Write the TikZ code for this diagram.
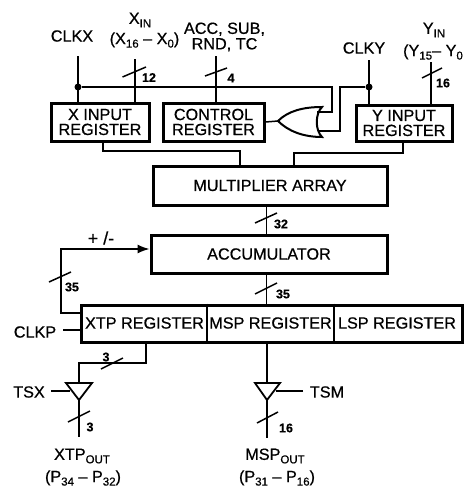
\documentclass[tikz,border=0pt]{standalone}
\usepackage{fontspec}
\setmainfont{Liberation Sans}[RawFeature={embolden=0.6}]
\usetikzlibrary{arrows.meta,calc}
\newcommand{\lo}[1]{\raisebox{-3.5pt}{\fontsize{11.5}{11.5}\selectfont #1}}
\tikzset{
  x=1pt,y=-1pt,
  lbl/.style={inner sep=0pt,font=\fontsize{16.2}{15.5}\selectfont,align=center},
  num/.style={inner sep=0pt,font=\fontsize{12.5}{12.5}\selectfont\bfseries},
  regbox/.style={draw,line width=3pt,inner sep=0pt,align=center,font=\fontsize{16.2}{15}\selectfont},
  wire/.style={line width=1.5pt},
  slash/.style={line width=1.5pt},
  buf/.style={line width=1.8pt,line join=miter},
  dot/.style={circle,fill,inner sep=0pt,minimum size=7pt},
}
\begin{document}
\begin{tikzpicture}
\useasboundingbox (0,0) rectangle (466,490);
% boxes
\node[regbox,minimum width=98pt,minimum height=38pt] (xreg) at (100,122) {X INPUT\\REGISTER};
\node[regbox,minimum width=101pt,minimum height=38pt] (ctrl) at (213.5,122) {CONTROL\\REGISTER};
\node[regbox,minimum width=96pt,minimum height=36pt] (yreg) at (404,123) {Y INPUT\\REGISTER};
\node[regbox,minimum width=234pt,minimum height=39pt] (mult) at (270,185.5) {MULTIPLIER ARRAY};
\node[regbox,minimum width=236pt,minimum height=38pt] (acc) at (269,254) {ACCUMULATOR};
\node[regbox,minimum width=381pt,minimum height=37pt] (reg) at (271.5,323.5) {};
\node[lbl] (xtp) at (144.5,323) {XTP REGISTER};
\node[lbl] (msp) at (270.5,323) {MSP REGISTER};
\node[lbl] (lsp) at (397,323) {LSP REGISTER};
\coordinate (divA) at (207,323);
\coordinate (divB) at (334,323);
\draw[wire] (divA |- reg.north) -- (divA |- reg.south);
\draw[wire] (divB |- reg.north) -- (divB |- reg.south);
% labels
\node[lbl] (lclkx) at (72,36) {CLKX};
\node[lbl] (lxin) at (140,20) {X\lo{IN}};
\node[lbl] (lxrange) at (144.5,40) {(X\lo{16} – X\lo{0})};
\node[lbl] (lctl) at (224.5,37) {ACC, SUB,\\RND, TC};
\node[lbl] (lclky) at (364,48) {CLKY};
\node[lbl] (lyin) at (434,30) {Y\lo{IN}};
\node[lbl] (lyrange) at (433,52) {(Y\lo{15}– Y\lo{0}};
\node[lbl,font=\fontsize{18}{18}\selectfont] (lpm) at (101,238) {+ /-};
\node[lbl] (lclkp) at (35,332) {CLKP};
\node[lbl] (ltsx) at (29,392) {TSX};
\node[lbl] (ltsm) at (327,392) {TSM};
\node[lbl] (lxtpo) at (82,456) {XTP\lo{OUT}};
\node[lbl] (lxtpr) at (83,478) {(P\lo{34} – P\lo{32})};
\node[lbl] (lmspo) at (275,456) {MSP\lo{OUT}};
\node[lbl] (lmspr) at (277,478) {(P\lo{31} – P\lo{16})};
% free ends
\coordinate (clkxTop) at (78,56);
\coordinate (xinTop) at (135,59);
\coordinate (ctlTop) at (216,56);
\coordinate (clkyTop) at (369,60);
\coordinate (yinTop) at (431,62);
\node[dot] (jx) at (78,87) {};
\node[dot] (jy) at (369,87) {};
% OR gate
\coordinate (orTip) at (278,121);
\coordinate (orA) at (322,107);
\coordinate (orB) at (322,137);
\coordinate (orInA) at (317,112);
\coordinate (orInB) at (318,131);
\draw[line width=2pt,line join=miter] (orTip) .. controls (288,111) and (303,107) .. (orA)
  .. controls (315,114) and (315,130) .. (orB)
  .. controls (303,137) and (288,131) .. cycle;
\draw[wire] (ctrl.east) -- (orTip);
\draw[wire] (jx) -| (332,112) -- (orInA);
\draw[wire] (jy) -| (340,131) -- (orInB);
% top wires
\draw[wire] (clkxTop) -- (clkxTop |- xreg.north);
\draw[wire] (xinTop) -- (xinTop |- xreg.north);
\draw[wire] (ctlTop) -- (ctlTop |- ctrl.north);
\draw[wire] (clkyTop) -- (clkyTop |- yreg.north);
\draw[wire] (yinTop) -- (yinTop |- yreg.north);
% to multiplier
\coordinate (xdrop) at (103,151);
\coordinate (xin2) at (240,151);
\coordinate (ydrop) at (403,153);
\coordinate (yin2) at (294,153);
\draw[wire] (xdrop |- xreg.south) -- (xdrop) -- (xin2) -- (xin2 |- mult.north);
\draw[wire] (ydrop |- yreg.south) -- (ydrop) -- (yin2) -- (yin2 |- mult.north);
% centre chain
\coordinate (cx) at (266.5,220);
\draw[wire] (cx |- mult.south) -- (cx |- acc.north);
\draw[wire] (cx |- acc.south) -- (cx |- reg.north);
% feedback
\coordinate (fbA) at (61,313);
\coordinate (fbB) at (61,249);
\draw[wire,-{Latex[length=12pt,width=9pt]}] (fbA -| reg.west) -- (fbA) -- (fbB) -- (fbB -| acc.west);
% CLKP
\coordinate (clkpEnd) at (63,330);
\draw[wire] (clkpEnd) -- (clkpEnd -| reg.west);
% XTP out
\coordinate (xtA) at (146,363);
\coordinate (xtB) at (79,363);
\coordinate (xtC) at (79,383);
\coordinate (xtD) at (79,400);
\coordinate (xtE) at (79,437);
\draw[buf] (66,383) -- (92,383) -- (xtD) -- cycle;
\draw[wire] (xtA |- reg.south) -- (xtA) -- (xtB) -- (xtC);
\draw[wire] (xtD) -- (xtE);
\coordinate (tsxA) at (51,391);
\coordinate (tsxB) at (70,391);
\draw[wire] (tsxA) -- (tsxB);
% MSP out
\coordinate (msA) at (267,383);
\coordinate (msD) at (267,400);
\coordinate (msE) at (267,438);
\draw[buf] (255,383) -- (280,383) -- (msD) -- cycle;
\draw[wire] (msA |- reg.south) -- (msA);
\draw[wire] (msD) -- (msE);
\coordinate (tsmA) at (303,391);
\coordinate (tsmB) at (276,391);
\draw[wire] (tsmA) -- (tsmB);
% bus slashes
\draw[slash] (122.5,77) -- (146,67);
\draw[slash] (205,76) -- (227,68);
\draw[slash] (422,78) -- (442,68);
\draw[slash] (255,223) -- (277,213);
\draw[slash] (49,282) -- (71,272);
\draw[slash] (255,294) -- (277,283);
\draw[slash] (101,369) -- (123,358);
\draw[slash] (68,422) -- (90,411);
\draw[slash] (257,423) -- (278,412);
% bus numbers
\node[num] (n12) at (149,77.5) {12};
\node[num] (n4) at (231,78) {4};
\node[num] (n16a) at (443,83) {16};
\node[num] (n32) at (281,224) {32};
\node[num] (n35a) at (72,287) {35};
\node[num] (n35b) at (283,294) {35};
\node[num] (n3a) at (106,357) {3};
\node[num] (n3b) at (90,427) {3};
\node[num] (n16b) at (286,428) {16};
\end{tikzpicture}
\end{document}
